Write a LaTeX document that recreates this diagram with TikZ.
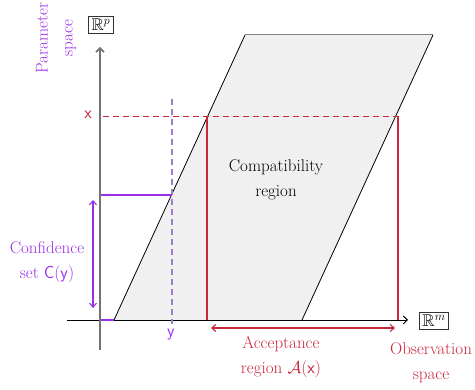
\documentclass[tikz,border=0pt]{standalone}
\usepackage{amssymb}
\usetikzlibrary{arrows.meta}
\definecolor{cred}{HTML}{C8283C}
\definecolor{cpur}{HTML}{9B30E8}
\definecolor{cpurl}{HTML}{A07CD0}
\newcommand{\bigmath}{\fontsize{19}{25}\selectfont}
\begin{document}
\begin{tikzpicture}[x=1pt,y=-1pt,font=\fontsize{17}{25}\selectfont,line width=0.8pt,
  lbl/.style={align=center,inner sep=1pt},
  cline/.style={line width=1.1pt},
  boxlbl/.style={draw=black!80,line width=1pt,inner sep=3pt,fill=white},
  axis/.style={-{Straight Barb[length=4pt,width=8pt]}}]
\useasboundingbox (0,0) rectangle (475,390);
% parallelogram
\coordinate (bl) at (114,320);
\coordinate (br) at (302,320);
\coordinate (tr) at (433,35);
\coordinate (tl) at (245,35);
\fill[black!6] (bl) -- (br) -- (tr) -- (tl) -- cycle;
\draw[black!50,line width=1pt] (tl) -- (tr);
\draw[black] (bl) -- (tl);
\draw[black] (br) -- (tr);
% axes
\coordinate (xs) at (67,320);
\coordinate (xe) at (408,320);
\coordinate (ys) at (100,350);
\coordinate (ye) at (100,47);
\draw[axis,black,line width=0.9pt] (xs) -- (xe);
\draw[axis,black!55,line width=1.6pt] (ys) -- (ye);
\node[boxlbl] (Rp) at (101,25) {$\mathbb{R}^p$};
\node[boxlbl] (Rm) at (434,321) {$\mathbb{R}^m$};
% x line
\coordinate (xa) at (103,116);
\coordinate (xb) at (398,116);
\coordinate (xl) at (207,116);
\coordinate (xlb) at (207,320);
\coordinate (xrb) at (398,320);
\draw[cred,line width=0.9pt,dashed,dash pattern=on 6pt off 4pt] (xa) -- (xb);
\draw[cred,cline] (xl) -- (xlb);
\draw[cred,cline] (xb) -- (xrb);
\node[text=cred,lbl] (xlab) at (88,115) {$\mathsf{x}$};
% y line
\coordinate (ya) at (172,99);
\coordinate (yb) at (172,324);
\draw[cpurl,dashed,line width=1.4pt,dash pattern=on 6pt off 4pt] (ya) -- (yb);
\node[text=cpur,lbl] (ylab) at (171,334) {$\mathsf{y}$};
\coordinate (ch0) at (101,195);
\coordinate (ch1) at (172,195);
\draw[cpur,cline] (ch0) -- (ch1);
\coordinate (cb0) at (101,320);
\draw[cpur,cline] (cb0) -- (bl);
% confidence arrow
\coordinate (ca) at (93,200);
\coordinate (cb) at (93,308);
\draw[cpur,cline,{Straight Barb[length=4pt,width=7pt]}-{Straight Barb[length=4pt,width=7pt]}] (ca) -- (cb);
\node[text=cpur,lbl] (conf) at (47,262) {Confidence\\set {\bigmath$\mathsf{C}(\mathsf{y})$}};
% acceptance arrow
\coordinate (aa) at (211,328);
\coordinate (ab) at (395,328);
\draw[cred,cline,{Straight Barb[length=4pt,width=7pt]}-{Straight Barb[length=4pt,width=7pt]}] (aa) -- (ab);
\node[text=cred,lbl] (acc) at (281,357) {Acceptance\\region {\bigmath$\mathcal{A}(\mathsf{x})$}};
\node[text=cred,lbl] (obs) at (431,363) {Observation\\space};
\node[text=cpur,lbl,rotate=90] (par) at (56,38) {Parameter\\space};
\node[lbl] (comp) at (276,180) {Compatibility\\region};
\end{tikzpicture}
\end{document}
